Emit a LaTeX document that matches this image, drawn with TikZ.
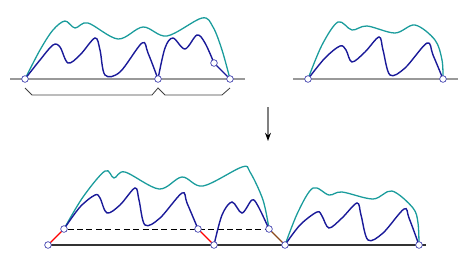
\documentclass[tikz,border=0pt]{standalone}
\usepackage{xcolor}
\usepackage{tikz}
\usetikzlibrary{arrows.meta, backgrounds}
\definecolor{pathblue}{HTML}{1A1A99}
\definecolor{pathteal}{HTML}{1A9C9C}
\definecolor{dotblue}{HTML}{4444B0}
\definecolor{brownish}{HTML}{8B4A1C}

\begin{document}
\begin{tikzpicture}[x=0.3mm, y=-0.3mm,
    dot/.style={circle, draw=dotblue, fill=white, line width=0.6pt, inner sep=0pt, minimum size=2mm},
    base/.style={line width=1.5pt, gray!80},
    lower/.style={line width=1.2pt, pathblue, line cap=round},
    upper/.style={line width=1.1pt, pathteal, line cap=round},
    brace/.style={line width=0.7pt, black!75},
    link/.style={line width=1.1pt},
    arr/.style={-{Stealth[length=7pt, width=5pt, color=black]}, line width=1pt, gray}
]
\useasboundingbox (0,0) rectangle (460,275);

% top left
\node[dot] (a1) at (25,79) {};
\node[dot] (a2) at (158,79) {};
\node[dot] (a3) at (214,63) {};
\node[dot] (a4) at (230,79) {};
\coordinate (aL) at (10,79);
\coordinate (aR) at (245,79);

% top right
\node[dot] (b1) at (308,79) {};
\node[dot] (b2) at (443,79) {};
\coordinate (bL) at (293,79);
\coordinate (bR) at (458,79);

% bottom
\node[dot] (c1) at (48,245) {};
\node[dot] (c2) at (64,229) {};
\node[dot] (c3) at (198,229) {};
\node[dot] (c4) at (214,245) {};
\node[dot] (c5) at (269,229) {};
\node[dot] (c6) at (285,245) {};
\node[dot] (c7) at (419,245) {};
\coordinate (cR) at (426,245);

% arrow
\coordinate (top) at (268,107);
\coordinate (bot) at (268,141);
\draw[arr] (top) -- (bot);

\begin{scope}[on background layer]
\draw[base] (aL) -- (aR);
\draw[base] (bL) -- (bR);
\draw[line width=1pt, black!80] (c1.center) -- (cR);
\draw[line width=0.8pt, dashed, dash pattern=on 5pt off 3pt] (c2) -- (c5);
\draw[link, red] (c1.center) -- (c2.center);
\draw[link, red] (c3.center) -- (c4.center);
\draw[link, brownish] (c5.center) -- (c6.center);

\draw[upper] plot[smooth, tension=0.55] coordinates {(a1.center) (40,50) (53,30) (65,21) (75,28) (88,23) (118,39) (143,27) (167,36) (202,18) (213,27) (222,50) (a4.center)};
\draw[lower] plot[smooth, tension=0.55] coordinates {(a1.center) (40,60) (53,45) (60,47) (68,63) (80,55) (95,38) (100,50) (105,75) (120,72) (142,43) (148,53) (a2.center)};
\draw[lower] plot[smooth, tension=0.55] coordinates {(a2.center) (165,48) (173,38) (185,49) (197,35) (205,43) (a3.center)};
\draw[lower] (a3.center) -- (a4.center);

\draw[upper] plot[smooth, tension=0.55] coordinates {(b1.center) (322,45) (338,22) (352,30) (367,26) (395,33) (415,25) (435,40) (442,60) (b2.center)};
\draw[lower] plot[smooth, tension=0.55] coordinates {(b1.center) (325,58) (340,46) (346,50) (352,62) (365,52) (379,37) (383,50) (390,75) (405,68) (427,43) (433,55) (b2.center)};

\draw[upper] plot[smooth, tension=0.55] coordinates {(c2.center) (83,197) (105,171) (114,178) (125,172) (159,189) (182,177) (203,186) (242,167) (250,172) (263,200) (c5.center)};
\draw[lower] plot[smooth, tension=0.55] coordinates {(c2.center) (80,207) (95,195) (100,198) (107,213) (120,205) (135,188) (139,200) (145,225) (160,218) (182,193) (187,203) (c3.center)};
\draw[lower] plot[smooth, tension=0.55] coordinates {(c4.center) (222,215) (232,202) (242,213) (252,200) (258,206) (c5.center)};
\draw[upper] plot[smooth, tension=0.55] coordinates {(c6.center) (298,212) (313,188) (329,195) (342,192) (373,199) (392,191) (413,208) (418,223) (c7.center)};
\draw[lower] plot[smooth, tension=0.55] coordinates {(c6.center) (300,225) (317,212) (322,216) (329,228) (342,218) (357,203) (361,215) (368,240) (383,233) (404,209) (409,218) (c7.center)};
\end{scope}

\draw[brace] (a1.center) ++(0,9) -- ++(7,7) -- ++(120,0) -- ++(6,-7) -- ++(7,7) -- ++(57,0) -- ++(8,-7);
\end{tikzpicture}
\end{document}
